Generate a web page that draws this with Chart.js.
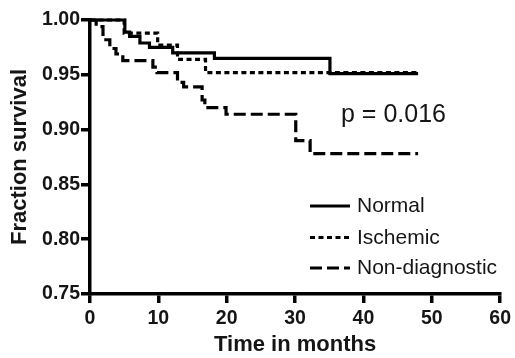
<!DOCTYPE html>
<html lang="en">
<head>
  <meta charset="UTF-8">
  <title>Fraction survival</title>
  <script src="https://cdn.jsdelivr.net/npm/chart.js"></script>
  <style>
    html, body { margin: 0; padding: 0; background: #fff; }
    #chart_box { position: relative; width: 515px; height: 358px; }
  </style>
</head>
<body>
  <div id="chart_box">
    <canvas id="myChart"></canvas>
  </div>
  <script>
    // survival curves (time in months, fraction surviving)
    const normalTime = [0, 5.1, 5.8, 7.3, 8.7, 12.1, 18.2, 35.1, 48];
    const normalSurv = [1.0, 0.989, 0.985, 0.979, 0.975, 0.970, 0.965, 0.951, 0.951];

    const ischemicTime = [0, 5.0, 9.9, 12.8, 16.9, 48];
    const ischemicSurv = [1.0, 0.988, 0.977, 0.964, 0.952, 0.952];

    const nonDiagTime = [0, 0.9, 1.9, 2.9, 3.8, 4.8, 9.2, 9.8, 12.8, 13.7, 16.4, 16.8, 19.9, 30.1, 32.2, 48];
    const nonDiagSurv = [1.0, 0.994, 0.982, 0.974, 0.969, 0.963, 0.957, 0.952, 0.943, 0.939, 0.927, 0.920, 0.914, 0.890, 0.878, 0.878];

    const seriesNames = ['Normal', 'Ischemic', 'Non-diagnostic'];
    const xTickLabels = ['0', '10', '20', '30', '40', '50', '60'];
    const yTickLabels = ['0.75', '0.80', '0.85', '0.90', '0.95', '1.00'];
    const pValueText = 'p = 0.016';

    const FONT = '"Liberation Sans", Arial, Helvetica, sans-serif';
    const INK = '#151515';

    function toPoints(t, s) {
      return t.map((x, i) => ({ x: x, y: s[i] }));
    }

    function curve(label, t, s, dash) {
      return {
        label: label,
        data: toPoints(t, s),
        borderColor: '#000',
        borderWidth: 3.2,
        borderDash: dash,
        stepped: 'before',
        pointRadius: 0,
        fill: false,
        clip: false
      };
    }

    // legend + p value drawn inside the plot
    const legendY = [206, 237.5, 268];
    const overlay = {
      id: 'overlay',
      afterDraw(chart) {
        const ctx = chart.ctx;
        ctx.save();
        ctx.fillStyle = INK;
        ctx.textBaseline = 'middle';
        ctx.textAlign = 'left';
        ctx.font = '25px ' + FONT;
        ctx.fillText(pValueText, 341, 115.5);

        ctx.font = '21px ' + FONT;
        chart.data.datasets.forEach((ds, i) => {
          const y = legendY[i];
          ctx.strokeStyle = ds.borderColor;
          ctx.lineWidth = ds.borderWidth;
          ctx.setLineDash(ds.borderDash || []);
          ctx.beginPath();
          ctx.moveTo(310, y);
          ctx.lineTo(350, y);
          ctx.stroke();
          ctx.setLineDash([]);
          ctx.fillText(ds.label, 357, y + 0.5);
        });
        ctx.restore();
      }
    };

    const ctx = document.getElementById('myChart').getContext('2d');
    const chart = new Chart(ctx, {
      type: 'line',
      data: {
        datasets: [
          curve(seriesNames[0], normalTime, normalSurv, []),
          curve(seriesNames[1], ischemicTime, ischemicSurv, [5, 3.5]),
          curve(seriesNames[2], nonDiagTime, nonDiagSurv, [12, 5])
        ]
      },
      options: {
        responsive: true,
        maintainAspectRatio: false,
        animation: false,
        layout: { padding: { top: 20, right: 12, left: 0, bottom: 0 } },
        plugins: {
          legend: { display: false },
          tooltip: { enabled: false }
        },
        scales: {
          x: {
            type: 'linear',
            min: 0,
            max: 60,
            afterFit(scale) { scale.height = 64; },
            border: { display: true, color: '#000', width: 3.5 },
            grid: { drawOnChartArea: false, drawTicks: true, tickLength: 9, color: '#000', lineWidth: 3.5 },
            ticks: {
              stepSize: 10,
              autoSkip: false,
              maxRotation: 0,
              padding: 4,
              color: INK,
              font: { family: FONT, size: 19.5, weight: 'bold' },
              callback: (v, i) => xTickLabels[i]
            },
            title: {
              display: true,
              text: 'Time in months',
              color: INK,
              padding: { top: 0, bottom: 0 },
              font: { family: FONT, size: 22, weight: 'bold' }
            }
          },
          y: {
            type: 'linear',
            min: 0.75,
            max: 1.0,
            afterFit(scale) { scale.width = 90; },
            border: { display: true, color: '#000', width: 3.5 },
            grid: { drawOnChartArea: false, drawTicks: true, tickLength: 9, color: '#000', lineWidth: 3.5 },
            ticks: {
              stepSize: 0.05,
              autoSkip: false,
              padding: 1,
              color: INK,
              font: { family: FONT, size: 19.5, weight: 'bold' },
              callback: (v, i) => yTickLabels[i]
            },
            title: {
              display: true,
              text: 'Fraction survival',
              color: INK,
              padding: { top: 7, bottom: 0 },
              font: { family: FONT, size: 22, weight: 'bold' }
            }
          }
        }
      },
      plugins: [overlay]
    });
  </script>
</body>
</html>
